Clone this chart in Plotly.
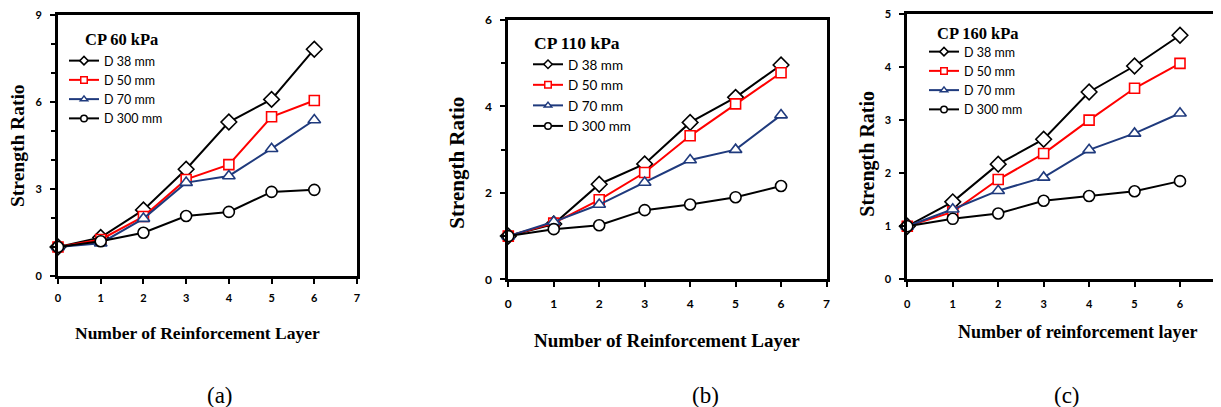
import plotly.graph_objects as go

W, H = 1221, 407
OFF = 8  # page body margin in the browser

layers = [0, 1, 2, 3, 4, 5, 6]
series_names = ["D 38 mm", "D 50 mm", "D 70 mm", "D 300 mm"]

# Panel (a) CP 60 kPa
a_d38 = [1.0, 1.33, 2.28, 3.68, 5.31, 6.09, 7.82]
a_d50 = [1.0, 1.26, 2.05, 3.33, 3.84, 5.49, 6.05]
a_d70 = [1.0, 1.13, 1.98, 3.22, 3.45, 4.39, 5.38]
a_d300 = [1.0, 1.20, 1.49, 2.07, 2.21, 2.90, 2.97]

# Panel (b) CP 110 kPa
b_d38 = [1.0, 1.28, 2.20, 2.67, 3.63, 4.21, 4.96]
b_d50 = [1.0, 1.30, 1.84, 2.47, 3.32, 4.06, 4.78]
b_d70 = [1.0, 1.33, 1.73, 2.24, 2.76, 3.00, 3.80]
b_d300 = [1.0, 1.16, 1.25, 1.60, 1.73, 1.90, 2.16]

# Panel (c) CP 160 kPa
c_d38 = [1.0, 1.46, 2.17, 2.64, 3.53, 4.02, 4.60]
c_d50 = [1.0, 1.27, 1.88, 2.37, 3.00, 3.60, 4.07]
c_d70 = [1.0, 1.32, 1.67, 1.92, 2.44, 2.75, 3.13]
c_d300 = [1.0, 1.14, 1.24, 1.48, 1.57, 1.66, 1.85]

panel_titles = ["CP 60 kPa", "CP 110 kPa", "CP 160 kPa"]
x_titles = ["Number of Reinforcement Layer", "Number of Reinforcement Layer",
            "Number of reinforcement layer"]
y_title = "Strength Ratio"
sub_labels = ["(a)", "(b)", "(c)"]

colors = ["#000000", "#FF0000", "#1F3A7D", "#000000"]
symbols = ["diamond", "square", "triangle-up", "circle"]
msizes = [12, 10, 11, 11]

panels = [
    [a_d38, a_d50, a_d70, a_d300],
    [b_d38, b_d50, b_d70, b_d300],
    [c_d38, c_d50, c_d70, c_d300],
]

def px(x):
    return (x - OFF) / W

def py(y):
    return 1 - (y - OFF) / H

fig = go.Figure()
legend_ids = ["legend", "legend2", "legend3"]
for p, data in enumerate(panels):
    xa = "x" if p == 0 else f"x{p+1}"
    ya = "y" if p == 0 else f"y{p+1}"
    for i, vals in enumerate(data):
        fig.add_trace(go.Scatter(
            x=layers, y=vals, xaxis=xa, yaxis=ya, mode="lines+markers",
            line=dict(color=colors[i], width=2),
            marker=dict(symbol=symbols[i], size=msizes[i], color="white",
                        line=dict(color=colors[i], width=1.6)),
            showlegend=False, cliponaxis=False,
        ))
    for i in range(4):
        fig.add_trace(go.Scatter(
            x=[None], y=[None], xaxis=xa, yaxis=ya, mode="lines+markers",
            name=series_names[i], legend=legend_ids[p],
            line=dict(color=colors[i], width=2),
            marker=dict(symbol=symbols[i], size=6.5, color="white",
                        line=dict(color=colors[i], width=1.5)),
            showlegend=True,
        ))

tickfont_a = dict(family="Lato", size=11, color="black", weight="bold")
tickfont_b = dict(family="Lato", size=12, color="black", weight="bold")

common_ax = dict(showline=True, linewidth=3, linecolor="black", showgrid=False,
                 zeroline=False, ticks="outside", ticklen=5, tickwidth=2,
                 tickcolor="black", automargin=False, ticklabeloverflow="allow")

c_left = 907.3
c_unit = 45.45

fig.update_layout(
    template="none",
    width=W, height=H, margin=dict(l=0, r=0, t=0, b=0, autoexpand=False),
    paper_bgcolor="white", plot_bgcolor="white",
    xaxis=dict(domain=[px(58), px(357)], range=[0, 7], dtick=1, mirror=True,
               tickfont=tickfont_a, ticklabelstandoff=5, anchor="y", **common_ax),
    yaxis=dict(domain=[py(276), py(15)], range=[0, 9], dtick=3, mirror=True,
               tickfont=tickfont_a, ticklabelstandoff=6, anchor="x",
               minor=dict(dtick=1, ticks="outside", ticklen=4, tickwidth=1.5, tickcolor="black"),
               **common_ax),
    xaxis2=dict(domain=[px(508.3), px(826.5)], range=[0, 7], dtick=1, mirror=True,
                tickfont=tickfont_b, ticklabelstandoff=6, anchor="y2", **common_ax),
    yaxis2=dict(domain=[py(279.3), py(20)], range=[0, 6], dtick=2, mirror=True,
                tickfont=tickfont_b, ticklabelstandoff=6, anchor="x2",
                minor=dict(dtick=1, ticks="outside", ticklen=4, tickwidth=1.5, tickcolor="black"),
                **common_ax),
    xaxis3=dict(domain=[px(c_left), px(1221)], range=[0, (1221 - c_left) / c_unit], dtick=1,
                mirror=True, tickfont=tickfont_a, ticklabelstandoff=7, anchor="y3", **common_ax),
    yaxis3=dict(domain=[py(279.3), py(14)], range=[0, 5], dtick=1, mirror=False,
                tickfont=tickfont_a, ticklabelstandoff=6, anchor="x3", **common_ax),
    legend=dict(x=px(64), y=py(46), xanchor="left", yanchor="top",
                bgcolor="rgba(0,0,0,0)", itemwidth=30, tracegroupgap=0,
                font=dict(family="Lato", size=12.5, color="black")),
    legend2=dict(x=px(528), y=py(49), xanchor="left", yanchor="top",
                 bgcolor="rgba(0,0,0,0)", itemwidth=30, tracegroupgap=0,
                 font=dict(family="Lato", size=13.5, color="black")),
    legend3=dict(x=px(924), y=py(37), xanchor="left", yanchor="top",
                 bgcolor="rgba(0,0,0,0)", itemwidth=30, tracegroupgap=0,
                 font=dict(family="Lato", size=12.5, color="black")),
)

serif = "Liberation Serif"
ann = []
title_pos = [(83, 40, 16.5), (531.7, 43.3, 17.5), (935, 33.3, 16.5)]
for t, (x, y, s) in zip(panel_titles, title_pos):
    ann.append(dict(text=t, x=px(x), y=py(y), xref="paper", yref="paper",
                    xanchor="left", yanchor="middle", showarrow=False,
                    font=dict(family=serif, size=s, color="black", weight="bold")))
xt_pos = [(197.5, 333, 17.5), (667, 340, 19), (1077, 331.7, 18)]
for t, (x, y, s) in zip(x_titles, xt_pos):
    ann.append(dict(text=t, x=px(x), y=py(y), xref="paper", yref="paper",
                    xanchor="center", yanchor="middle", showarrow=False,
                    font=dict(family=serif, size=s, color="black", weight="bold")))
yt_pos = [(17, 146, 19.5), (456.7, 163, 21), (866.7, 154, 20)]
for (x, y, s) in yt_pos:
    ann.append(dict(text=y_title, x=px(x), y=py(y), xref="paper", yref="paper",
                    xanchor="center", yanchor="middle", showarrow=False, textangle=-90,
                    borderpad=0,
                    font=dict(family=serif, size=s, color="black", weight="bold")))
sl_pos = [(220, 395), (705, 395), (1066.7, 395)]
for t, (x, y) in zip(sub_labels, sl_pos):
    ann.append(dict(text=t, x=px(x), y=py(y), xref="paper", yref="paper",
                    xanchor="center", yanchor="middle", showarrow=False,
                    font=dict(family=serif, size=23, color="black")))
fig.update_layout(annotations=ann)

fig.write_html("out.html")
